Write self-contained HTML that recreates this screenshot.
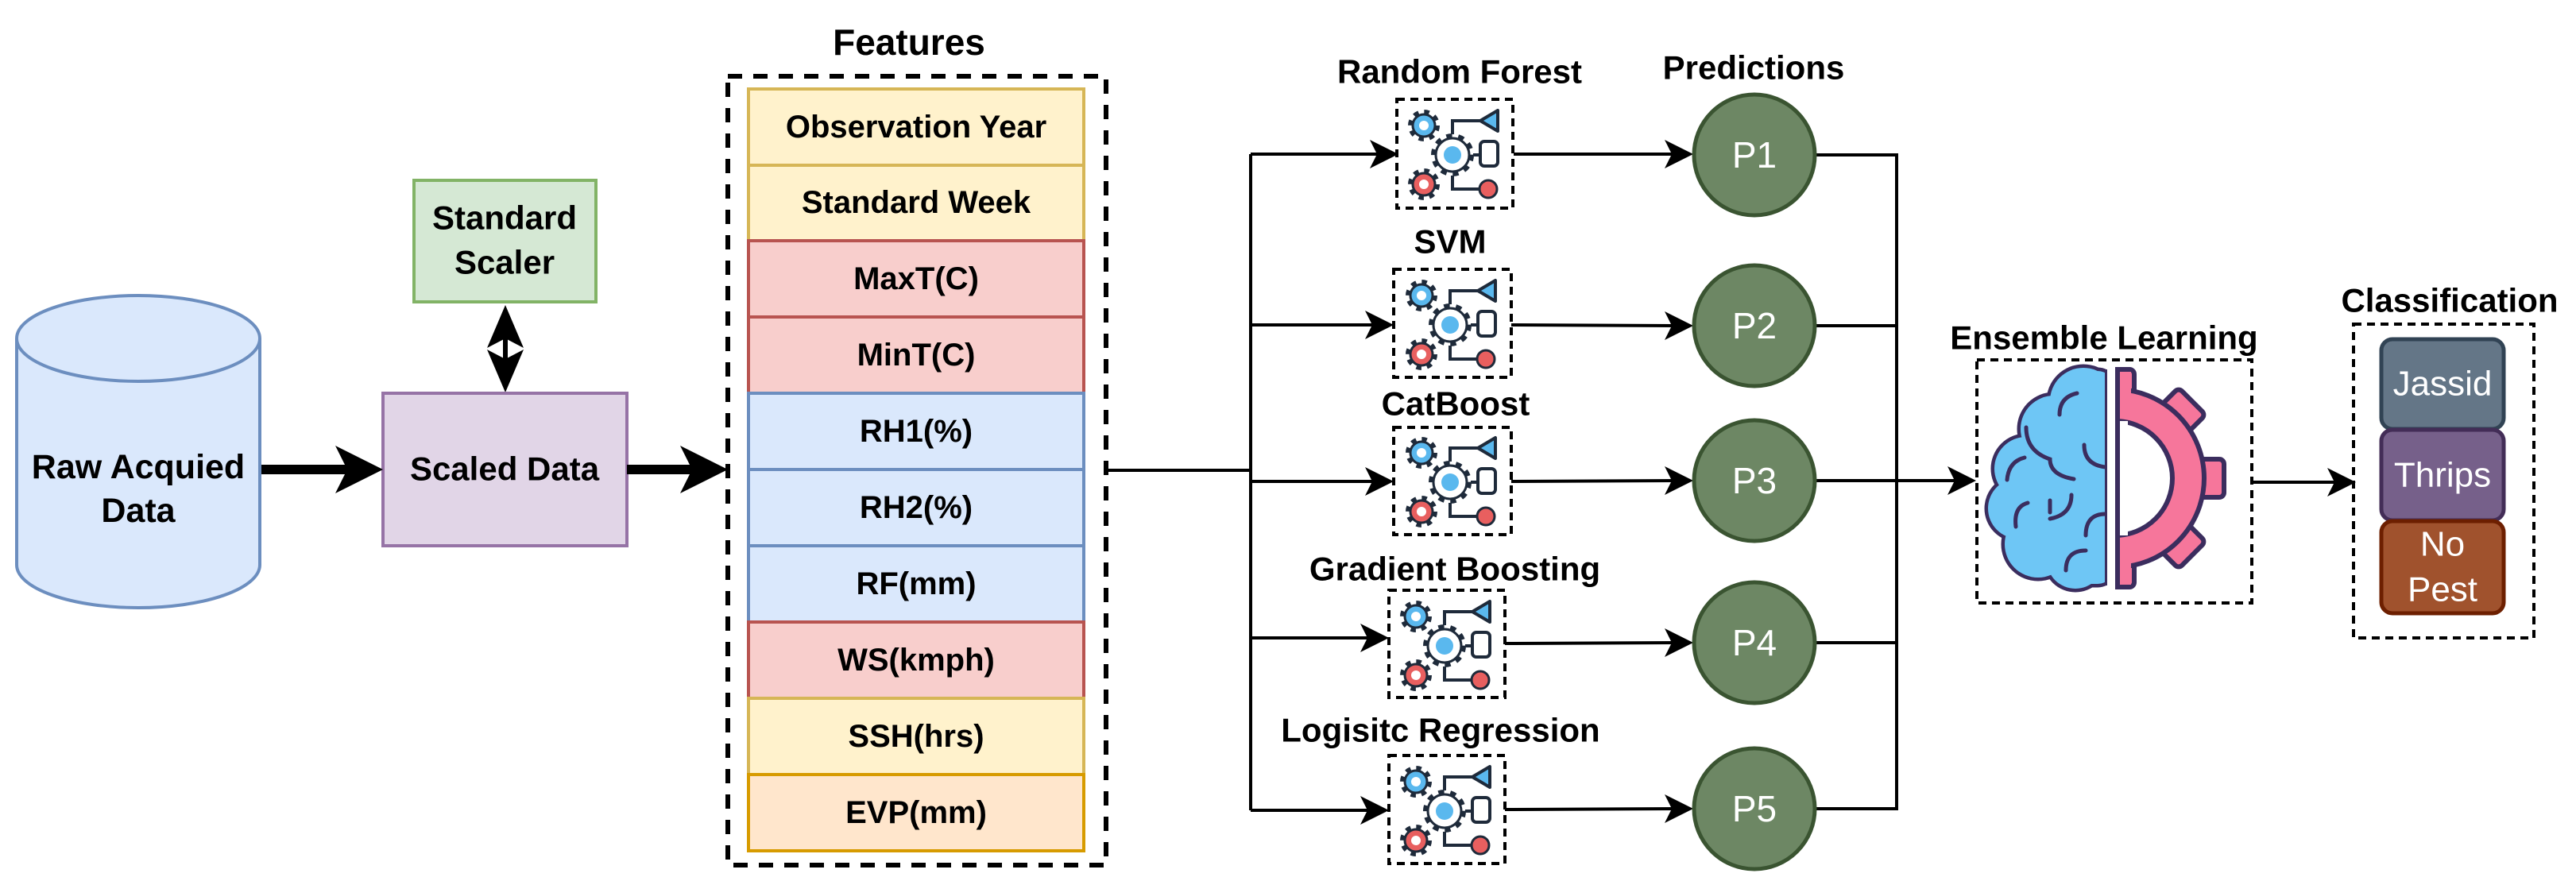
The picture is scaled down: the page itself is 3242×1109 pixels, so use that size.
<!DOCTYPE html>
<html><head><meta charset="utf-8"><style>html,body{margin:0;padding:0;background:#fff}svg{display:block}</style></head>
<body>
<svg width="3242" height="1109" viewBox="0 0 3242 1109" xmlns="http://www.w3.org/2000/svg" font-family="Liberation Sans, Arial, sans-serif">
<defs>
<g id="icon">
  <g stroke="#1e2a3a" stroke-width="4" fill="none">
  <polyline points="71,44 71,27 108,27"/>
  <polyline points="71,96 71,113 104,113"/>
  <line x1="97" y1="70" x2="106" y2="70"/>
  </g>
  <polygon points="106,27 128,14 128,40" fill="#5ab8ee" stroke="#1e2a3a" stroke-width="4" stroke-linejoin="round"/>
  <rect x="106" y="53" width="22" height="31" rx="5" fill="#fff" stroke="#1e2a3a" stroke-width="4"/>
  <circle cx="116" cy="113" r="11" fill="#e85f5f" stroke="#1e2a3a" stroke-width="3"/>
  <circle cx="35" cy="33" r="16" fill="none" stroke="#1e2a3a" stroke-width="8" stroke-dasharray="6 6.6"/>
  <circle cx="35" cy="33" r="14" fill="#5ab8ee" stroke="#1e2a3a" stroke-width="3"/>
  <circle cx="35" cy="33" r="6" fill="#fff"/>
  <circle cx="71" cy="70" r="23" fill="none" stroke="#1e2a3a" stroke-width="8" stroke-dasharray="7 7.4"/>
  <circle cx="71" cy="70" r="21" fill="#fff" stroke="#1e2a3a" stroke-width="3"/>
  <circle cx="71" cy="70" r="11" fill="#5ab8ee"/>
  <circle cx="35" cy="107" r="16" fill="none" stroke="#1e2a3a" stroke-width="8" stroke-dasharray="6 6.6"/>
  <circle cx="35" cy="107" r="14" fill="#e85f5f" stroke="#1e2a3a" stroke-width="3"/>
  <circle cx="35" cy="107" r="6" fill="#fff"/>
</g>
<clipPath id="leftc"><rect x="2480" y="440" width="172" height="330"/></clipPath>
<clipPath id="rightc"><rect x="2662" y="440" width="190" height="330"/></clipPath>
</defs>

<!-- Cylinder -->
<path d="M21,426 L21,711 A153,54 0 0 0 327,711 L327,426" fill="#dae8fc" stroke="#6c8ebf" stroke-width="4"/>
<ellipse cx="174" cy="426" rx="153" ry="54" fill="#dae8fc" stroke="#6c8ebf" stroke-width="4"/>
<text x="174" y="588" font-size="43" font-weight="bold" text-anchor="middle" dominant-baseline="central">Raw Acquied</text>
<text x="174" y="643" font-size="43" font-weight="bold" text-anchor="middle" dominant-baseline="central">Data</text>

<!-- Standard scaler -->
<rect x="521" y="227" width="229" height="153" fill="#d5e8d4" stroke="#82b366" stroke-width="4"/>
<text x="635" y="274" font-size="42" font-weight="bold" text-anchor="middle" dominant-baseline="central">Standard</text>
<text x="635" y="330" font-size="42" font-weight="bold" text-anchor="middle" dominant-baseline="central">Scaler</text>
<line x1="636" y1="400" x2="636" y2="478" stroke="#000" stroke-width="6"/>
<polygon points="636,384 659,438 636,426 613,438" fill="#000"/>
<polygon points="636,494 659,440 636,452 613,440" fill="#000"/>
<polygon points="613,438 630,432 630,446" fill="#fff"/>
<polygon points="659,438 642,432 642,446" fill="#fff"/>

<!-- Scaled data -->
<rect x="482" y="495" width="307" height="192" fill="#e1d5e7" stroke="#9673a6" stroke-width="4"/>
<text x="635" y="590" font-size="42" font-weight="bold" text-anchor="middle" dominant-baseline="central">Scaled Data</text>

<!-- thick arrows -->
<line x1="329" y1="591" x2="460" y2="591" stroke="#000" stroke-width="12"/>
<polygon points="482,591 422,561 437,591 422,621" fill="#000"/>
<line x1="789" y1="591" x2="895" y2="591" stroke="#000" stroke-width="12"/>
<polygon points="916,591 856,561 871,591 856,621" fill="#000"/>

<!-- Features -->
<text x="1144" y="53" font-size="46" font-weight="bold" text-anchor="middle" dominant-baseline="central">Features</text>
<rect x="916" y="96" width="476" height="993" fill="none" stroke="#000" stroke-width="6" stroke-dasharray="18 14"/>
<g font-size="40" font-weight="bold" text-anchor="middle" stroke-width="4">
<rect x="942" y="112" width="422" height="96" fill="#fff2cc" stroke="#d6b656"/>
<text x="1153" y="160" dominant-baseline="central">Observation Year</text>
<rect x="942" y="208" width="422" height="95" fill="#fff2cc" stroke="#d6b656"/>
<text x="1153" y="255" dominant-baseline="central">Standard Week</text>
<rect x="942" y="303" width="422" height="96" fill="#f8cecc" stroke="#b85450"/>
<text x="1153" y="351" dominant-baseline="central">MaxT(C)</text>
<rect x="942" y="399" width="422" height="96" fill="#f8cecc" stroke="#b85450"/>
<text x="1153" y="447" dominant-baseline="central">MinT(C)</text>
<rect x="942" y="495" width="422" height="96" fill="#dae8fc" stroke="#6c8ebf"/>
<text x="1153" y="543" dominant-baseline="central">RH1(%)</text>
<rect x="942" y="591" width="422" height="96" fill="#dae8fc" stroke="#6c8ebf"/>
<text x="1153" y="639" dominant-baseline="central">RH2(%)</text>
<rect x="942" y="687" width="422" height="96" fill="#dae8fc" stroke="#6c8ebf"/>
<text x="1153" y="735" dominant-baseline="central">RF(mm)</text>
<rect x="942" y="783" width="422" height="96" fill="#f8cecc" stroke="#b85450"/>
<text x="1153" y="831" dominant-baseline="central">WS(kmph)</text>
<rect x="942" y="879" width="422" height="96" fill="#fff2cc" stroke="#d6b656"/>
<text x="1153" y="927" dominant-baseline="central">SSH(hrs)</text>
<rect x="942" y="975" width="422" height="96" fill="#ffe6cc" stroke="#d79b00"/>
<text x="1153" y="1023" dominant-baseline="central">EVP(mm)</text>
</g>

<!-- trunk -->
<g stroke="#000" stroke-width="4" fill="none">
<polyline points="1392,592 1574,592"/>
<line x1="1574" y1="194" x2="1574" y2="1020"/>
<line x1="1574" y1="194" x2="1740" y2="194"/>
<line x1="1574" y1="409" x2="1734" y2="409"/>
<line x1="1574" y1="606" x2="1734" y2="606"/>
<line x1="1574" y1="803" x2="1728" y2="803"/>
<line x1="1574" y1="1020" x2="1728" y2="1020"/>
<line x1="1905" y1="194" x2="2111" y2="194"/>
<line x1="1902" y1="409" x2="2111" y2="410"/>
<line x1="1902" y1="606" x2="2111" y2="605"/>
<line x1="1894" y1="810" x2="2111" y2="809"/>
<line x1="1894" y1="1019" x2="2111" y2="1018"/>
<polyline points="2285,195 2387,195 2387,1018 2285,1018"/>
<line x1="2285" y1="410" x2="2387" y2="410"/>
<line x1="2285" y1="809" x2="2387" y2="809"/>
<line x1="2285" y1="605" x2="2467" y2="605"/>
<line x1="2834" y1="607" x2="2945" y2="607"/>
</g>
<g fill="#000">
<polygon points="1760,194 1724,176 1733,194 1724,212"/>
<polygon points="1754,409 1718,391 1727,409 1718,427"/>
<polygon points="1754,606 1718,588 1727,606 1718,624"/>
<polygon points="1748,803 1712,785 1721,803 1712,821"/>
<polygon points="1748,1020 1712,1002 1721,1020 1712,1038"/>
<polygon points="2131,194 2095,176 2104,194 2095,212"/>
<polygon points="2131,410 2095,392 2104,410 2095,428"/>
<polygon points="2131,605 2095,587 2104,605 2095,623"/>
<polygon points="2131,809 2095,791 2104,809 2095,827"/>
<polygon points="2131,1018 2095,1000 2104,1018 2095,1036"/>
<polygon points="2487,605 2451,587 2460,605 2451,623"/>
<polygon points="2965,607 2929,589 2938,607 2929,625"/>
</g>

<!-- model icons -->
<g fill="none" stroke="#000" stroke-width="4" stroke-dasharray="10 7">
<rect x="1758" y="125" width="146" height="137"/>
<rect x="1754" y="339" width="148" height="136"/>
<rect x="1754" y="538" width="148" height="135"/>
<rect x="1748" y="743" width="146" height="135"/>
<rect x="1748" y="951" width="146" height="136"/>
</g>
<use href="#icon" x="1757" y="125"/>
<use href="#icon" x="1754" y="339"/>
<use href="#icon" x="1754" y="537"/>
<use href="#icon" x="1747" y="743"/>
<use href="#icon" x="1747" y="951"/>

<g font-size="42" font-weight="bold" text-anchor="middle">
<text x="1837" y="90" dominant-baseline="central">Random Forest</text>
<text x="1825" y="304" dominant-baseline="central">SVM</text>
<text x="1832" y="508" dominant-baseline="central">CatBoost</text>
<text x="1831" y="716" dominant-baseline="central">Gradient Boosting</text>
<text x="1813" y="919" dominant-baseline="central">Logisitc Regression</text>
<text x="2207" y="85" dominant-baseline="central">Predictions</text>
<text x="2648" y="425" dominant-baseline="central">Ensemble Learning</text>
<text x="3083" y="378" dominant-baseline="central">Classification</text>
</g>

<!-- circles -->
<g fill="#6d8764" stroke="#3a5431" stroke-width="5">
<circle cx="2208" cy="195" r="76"/>
<circle cx="2208" cy="410" r="76"/>
<circle cx="2208" cy="605" r="76"/>
<circle cx="2208" cy="809" r="76"/>
<circle cx="2208" cy="1018" r="76"/>
</g>
<g fill="#fff" font-size="46" text-anchor="middle">
<text x="2208" y="195" dominant-baseline="central">P1</text>
<text x="2208" y="410" dominant-baseline="central">P2</text>
<text x="2208" y="605" dominant-baseline="central">P3</text>
<text x="2208" y="809" dominant-baseline="central">P4</text>
<text x="2208" y="1018" dominant-baseline="central">P5</text>
</g>

<!-- Ensemble -->
<rect x="2488" y="453" width="346" height="306" fill="none" stroke="#000" stroke-width="4" stroke-dasharray="10 7"/>
<g clip-path="url(#leftc)">
 <g fill="#6ec6f5" stroke="#3b2d5e" stroke-width="9">
  <circle cx="2622" cy="505" r="42"/><circle cx="2585" cy="540" r="42"/><circle cx="2550" cy="590" r="40"/>
  <circle cx="2540" cy="640" r="38"/><circle cx="2565" cy="685" r="42"/><circle cx="2612" cy="705" r="36"/>
  <rect x="2600" y="467" width="60" height="268" rx="20"/>
  <circle cx="2610" cy="610" r="55"/>
 </g>
 <g fill="#6ec6f5">
  <circle cx="2622" cy="505" r="42"/><circle cx="2585" cy="540" r="42"/><circle cx="2550" cy="590" r="40"/>
  <circle cx="2540" cy="640" r="38"/><circle cx="2565" cy="685" r="42"/><circle cx="2612" cy="705" r="36"/>
  <rect x="2600" y="467" width="60" height="268" rx="20"/>
  <circle cx="2610" cy="610" r="55"/>
 </g>
 <g fill="none" stroke="#3b2d5e" stroke-width="5" stroke-linecap="round">
  <path d="M2614,495 q-22,5 -22,27"/><path d="M2550,538 q0,30 30,40 q0,20 30,25"/><path d="M2548,576 q-20,5 -22,28"/>
  <path d="M2623,560 q0,25 27,28"/><path d="M2552,633 q-18,5 -15,30"/><path d="M2607,623 q0,25 -27,30"/>
  <path d="M2580,630 v15"/><path d="M2650,647 q-25,0 -25,27"/><path d="M2625,693 q-25,0 -25,25"/>
 </g>
 <line x1="2652" y1="465" x2="2652" y2="737" stroke="#3b2d5e" stroke-width="6"/>
</g>
<g clip-path="url(#rightc)">
 <g fill="#f6769b" stroke="#3b2d5e" stroke-width="6" stroke-linejoin="round">
  <rect x="2638" y="465" width="48" height="274" rx="6"/>
  <rect x="2638" y="465" width="48" height="274" rx="6" transform="rotate(45 2662 602)"/>
  <rect x="2638" y="465" width="48" height="274" rx="6" transform="rotate(90 2662 602)"/>
  <rect x="2638" y="465" width="48" height="274" rx="6" transform="rotate(135 2662 602)"/>
  <circle cx="2662" cy="602" r="112"/>
 </g>
 <circle cx="2662" cy="602" r="106" fill="#f6769b"/>
 <rect x="2662" y="468" width="20" height="40" fill="#f6769b"/>
 <rect x="2662" y="696" width="20" height="40" fill="#f6769b"/>
 <circle cx="2662" cy="602" r="72" fill="#fff" stroke="#3b2d5e" stroke-width="6"/>
 <circle cx="2662" cy="602" r="66" fill="#fff"/>
 <line x1="2665" y1="465" x2="2665" y2="739" stroke="#3b2d5e" stroke-width="6"/>
 <rect x="2668" y="530" width="10" height="144" fill="#fff"/>
</g>

<!-- Classification -->
<rect x="2962" y="408" width="227" height="395" fill="none" stroke="#000" stroke-width="4" stroke-dasharray="10 7"/>
<rect x="2997" y="427" width="154" height="113" rx="14" fill="#647687" stroke="#314354" stroke-width="5"/>
<rect x="2997" y="541" width="154" height="114" rx="14" fill="#76608a" stroke="#432d57" stroke-width="5"/>
<rect x="2997" y="656" width="154" height="116" rx="14" fill="#a0522d" stroke="#6d1f00" stroke-width="5"/>
<g fill="#fff" font-size="44" text-anchor="middle">
<text x="3074" y="483" dominant-baseline="central">Jassid</text>
<text x="3074" y="598" dominant-baseline="central">Thrips</text>
<text x="3074" y="685" dominant-baseline="central">No</text>
<text x="3074" y="742" dominant-baseline="central">Pest</text>
</g>
</svg>
</body></html>
